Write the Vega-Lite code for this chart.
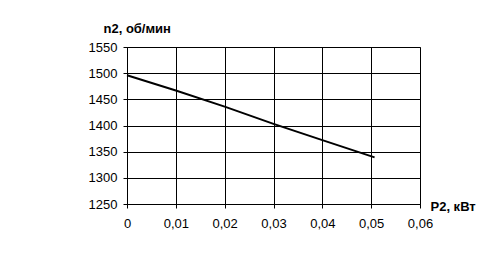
{
  "$schema": "https://vega.github.io/schema/vega-lite/v6.json",
  "autosize": {"type": "none"},
  "padding": {"left": 127, "top": 47, "right": 71, "bottom": 69},
  "width": 293,
  "height": 157,
  "background": "white",
  "config": {
    "view": {"stroke": "#808080", "strokeWidth": 1},
    "font": "Liberation Sans",
    "axis": {
      "labelFont": "Liberation Sans",
      "labelFontSize": 13,
      "labelColor": "black",
      "domainColor": "black",
      "tickColor": "black",
      "gridColor": "black",
      "gridOpacity": 1,
      "gridWidth": 1,
      "tickSize": 4,
      "titleFont": "Liberation Sans",
      "titleFontSize": 13,
      "titleFontWeight": "bold",
      "titleColor": "black"
    }
  },
  "data": {
    "values": [
      {"P2": 0, "n2": 1496},
      {"P2": 0.01, "n2": 1467},
      {"P2": 0.02, "n2": 1436},
      {"P2": 0.03, "n2": 1403},
      {"P2": 0.04, "n2": 1372},
      {"P2": 0.0507, "n2": 1339}
    ]
  },
  "mark": {"type": "line", "color": "black", "strokeWidth": 2},
  "encoding": {
    "x": {
      "field": "P2",
      "type": "quantitative",
      "scale": {"domain": [0, 0.06], "nice": false, "zero": false},
      "axis": {
        "values": [0, 0.01, 0.02, 0.03, 0.04, 0.05, 0.06],
        "labelExpr": "replace(format(datum.value, '~g'), '.', ',')",
        "labelPadding": 9,
        "labelFlush": false,
        "title": "P2, кВт",
        "titleAngle": 0,
        "titleAlign": "left",
        "titleBaseline": "alphabetic",
        "titleX": 303,
        "titleY": 6
      }
    },
    "y": {
      "field": "n2",
      "type": "quantitative",
      "scale": {"domain": [1250, 1550], "nice": false, "zero": false},
      "axis": {
        "values": [1250, 1300, 1350, 1400, 1450, 1500, 1550],
        "format": "d",
        "labelPadding": 6,
        "labelFlush": false,
        "title": "n2, об/мин",
        "titleAngle": 0,
        "titleAlign": "left",
        "titleBaseline": "alphabetic",
        "titleX": -24,
        "titleY": -15
      }
    }
  }
}
